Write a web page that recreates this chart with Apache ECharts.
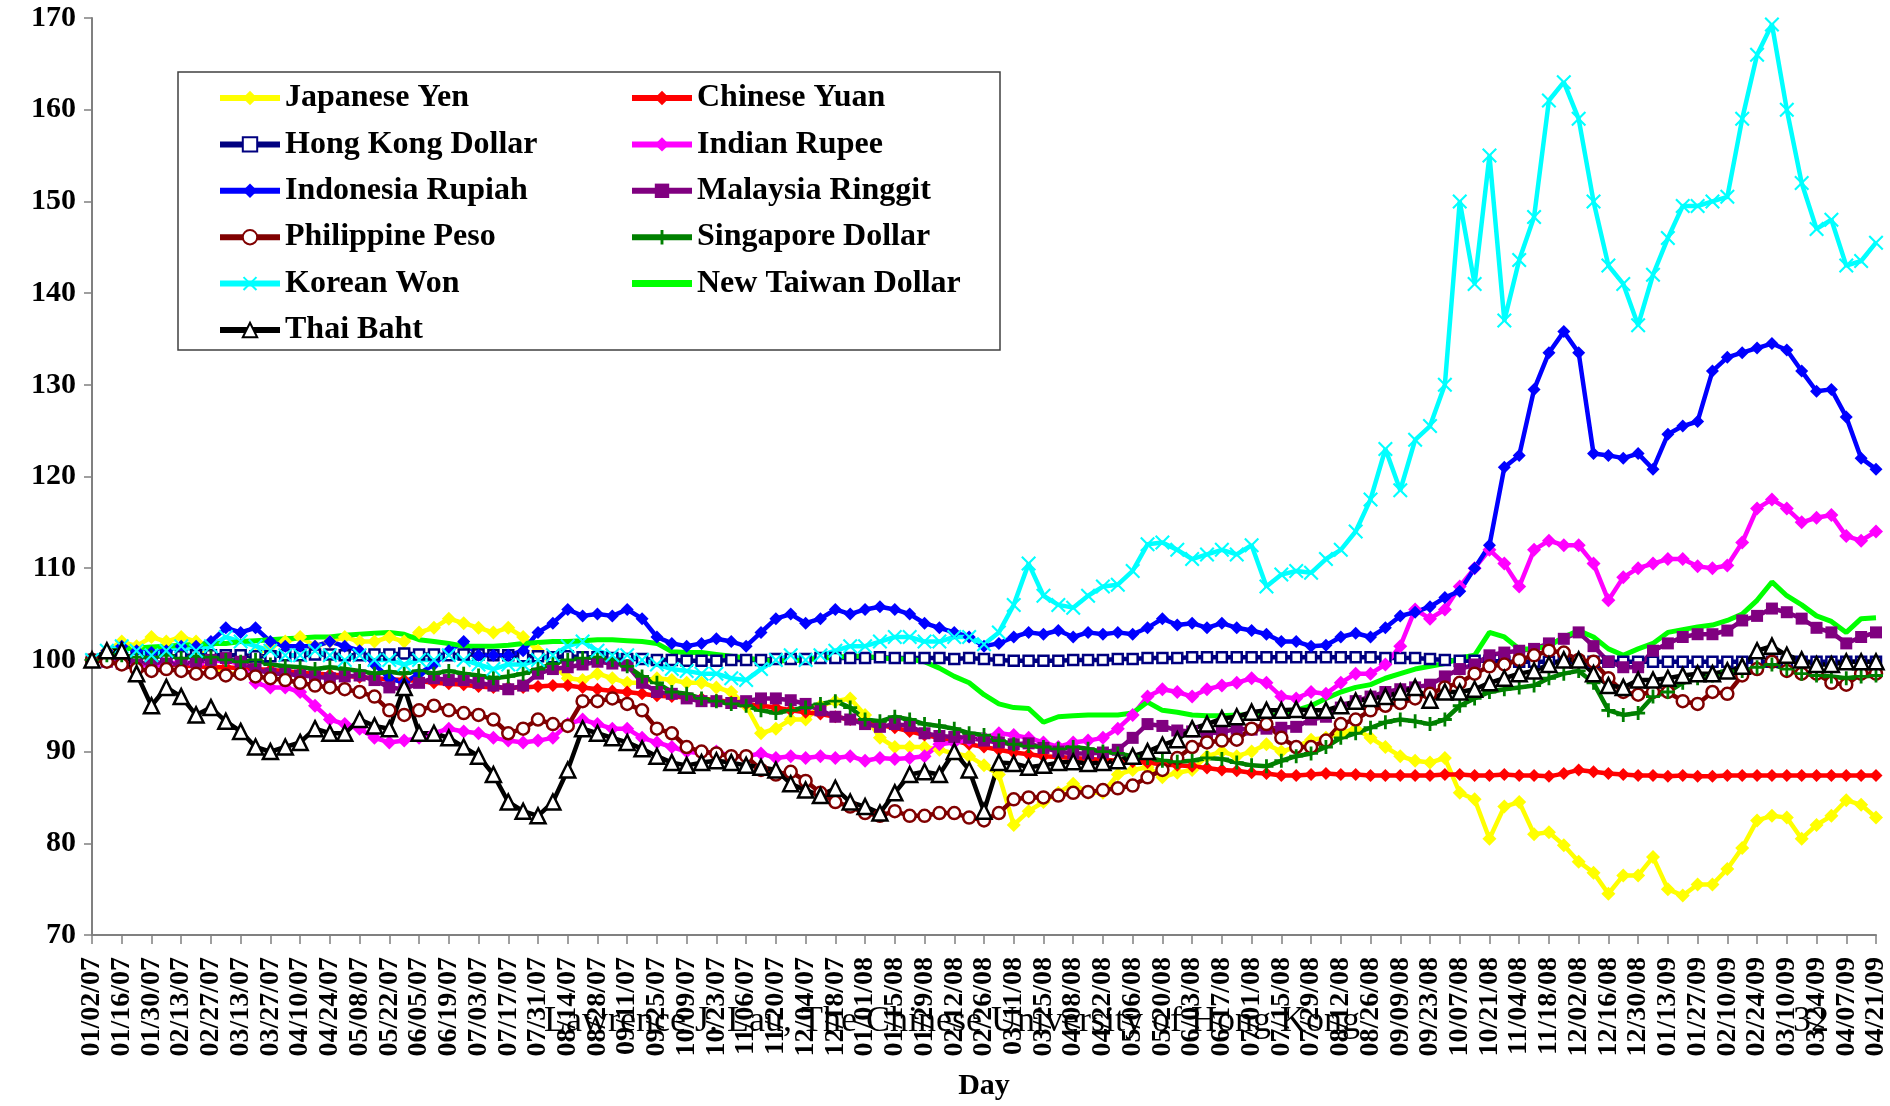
<!DOCTYPE html>
<html>
<head>
<meta charset="utf-8">
<script src="https://cdn.jsdelivr.net/npm/echarts/dist/echarts.min.js"></script>
<style>
  html, body { margin: 0; padding: 0; background: #fff; }
  #chart { width: 1890px; height: 1106px; }
</style>
</head>
<body>
<div id="chart"></div>
<script>
// tick labels, one every 10 trading days; data is weekly (2 points per label)
const tickLabels = [
  '01/02/07', '01/16/07', '01/30/07', '02/13/07', '02/27/07', '03/13/07', '03/27/07', '04/10/07', '04/24/07', '05/08/07',
  '05/22/07', '06/05/07', '06/19/07', '07/03/07', '07/17/07', '07/31/07', '08/14/07', '08/28/07', '09/11/07', '09/25/07',
  '10/09/07', '10/23/07', '11/06/07', '11/20/07', '12/04/07', '12/18/07', '01/01/08', '01/15/08', '01/29/08', '02/12/08',
  '02/26/08', '03/11/08', '03/25/08', '04/08/08', '04/22/08', '05/06/08', '05/20/08', '06/03/08', '06/17/08', '07/01/08',
  '07/15/08', '07/29/08', '08/12/08', '08/26/08', '09/09/08', '09/23/08', '10/07/08', '10/21/08', '11/04/08', '11/18/08',
  '12/02/08', '12/16/08', '12/30/08', '01/13/09', '01/27/09', '02/10/09', '02/24/09', '03/10/09', '03/24/09', '04/07/09',
  '04/21/09'
];

const jpy = [
  100, 101, 102, 101.5, 102.5, 102, 102.5, 102, 99.5, 98.5,
  98.5, 100.5, 101.5, 102, 102.5, 101.5, 102, 102.5, 102, 102,
  102.5, 102, 103, 103.5, 104.5, 104, 103.5, 103, 103.5, 102.5,
  101, 99.5, 98, 97.8, 98.5, 98, 97.5, 97.5, 98, 97.8,
  97.5, 97.5, 97, 96.5, 95, 92, 92.5, 93.5, 93.5, 95,
  95.5, 95.8, 94, 91.5, 90.5, 90.5, 90.5, 90.2, 89.8, 89.5,
  88.5, 87.5, 82, 83.5, 84.5, 85.5, 86.5, 85.5, 85.5, 87.5,
  88, 88.3, 87.2, 87.7, 88, 89.5, 90, 89.5, 90, 90.8,
  90, 90.5, 91.3, 91.5, 92, 92.5, 91.5, 90.5, 89.5, 89,
  88.8, 89.3, 85.5, 84.8, 80.5, 84, 84.5, 81, 81.2, 79.8,
  78, 76.8, 74.5, 76.5, 76.5, 78.5, 75, 74.3, 75.5, 75.5,
  77.2, 79.5, 82.5, 83, 82.8, 80.5, 82, 83, 84.7, 84.2, 82.8
];
const cny = [
  100, 100, 99.8, 99.7, 99.6, 99.5, 99.4, 99.3, 99.2, 99.2,
  99.1, 99, 98.9, 98.8, 98.6, 98.5, 98.4, 98.3, 98.1, 98,
  97.9, 97.8, 97.7, 97.5, 97.4, 97.3, 97.1, 97, 97, 97,
  97.1, 97.2, 97.2, 97, 96.8, 96.6, 96.5, 96.3, 96.1, 96,
  95.9, 95.8, 95.6, 95.4, 95.2, 95, 94.8, 94.5, 94.3, 94.1,
  93.8, 93.5, 93.2, 92.9, 92.6, 92.2, 91.8, 91.5, 91.2, 90.8,
  90.5, 90.2, 89.9, 89.7, 89.5, 89.4, 89.3, 89.2, 89.1, 89,
  88.9, 88.8, 88.6, 88.5, 88.4, 88.2, 88, 87.9, 87.7, 87.6,
  87.4, 87.4, 87.5, 87.6, 87.5, 87.5, 87.4, 87.4, 87.4, 87.4,
  87.4, 87.5, 87.5, 87.4, 87.4, 87.5, 87.4, 87.4, 87.3, 87.6,
  88, 87.8, 87.6, 87.5, 87.4, 87.4, 87.3, 87.4, 87.3, 87.3,
  87.4, 87.4, 87.4, 87.4, 87.4, 87.4, 87.4, 87.4, 87.4, 87.4, 87.4
];
const hkd = [
  100, 100.2, 100.3, 100.3, 100.4, 100.4, 100.4, 100.5, 100.5, 100.5,
  100.5, 100.4, 100.4, 100.5, 100.5, 100.6, 100.6, 100.5, 100.5, 100.6,
  100.6, 100.7, 100.6, 100.6, 100.5, 100.6, 100.6, 100.5, 100.5, 100.4,
  100.4, 100.3, 100.4, 100.3, 100.3, 100.2, 100.1, 100.1, 100, 100,
  99.9, 99.9, 99.9, 100, 100, 100, 100.1, 100.1, 100.1, 100.2,
  100.2, 100.2, 100.2, 100.3, 100.2, 100.2, 100.2, 100.2, 100.1, 100.2,
  100.1, 100, 99.9, 99.9, 99.9, 99.9, 100, 100, 100, 100.1,
  100.1, 100.2, 100.2, 100.2, 100.3, 100.3, 100.3, 100.3, 100.3, 100.3,
  100.3, 100.3, 100.3, 100.3, 100.3, 100.3, 100.3, 100.2, 100.2, 100.2,
  100.1, 100, 99.9, 99.9, 99.9, 99.8, 99.8, 99.8, 99.8, 99.8,
  99.8, 99.8, 99.8, 99.8, 99.8, 99.8, 99.8, 99.8, 99.8, 99.8,
  99.8, 99.8, 99.8, 99.8, 99.8, 99.8, 99.8, 99.8, 99.8, 99.8, 99.8
];
const inr = [
  100, 100, 99.8, 99.5, 99.3, 99.5, 99.8, 99.5, 99.8, 100,
  99.5, 97.5, 97, 97, 96.5, 95, 93.5, 93, 92.5, 91.5,
  91, 91.2, 91.5, 92, 92.5, 92.2, 92, 91.5, 91.2, 91,
  91.2, 91.5, 93, 93.5, 93, 92.5, 92.5, 91.5, 91, 90.5,
  90, 89.8, 90, 89.5, 89.5, 89.8, 89.3, 89.5, 89.3, 89.5,
  89.3, 89.5, 89, 89.3, 89.2, 89.3, 89.5, 90.8, 91, 91.3,
  91.5, 92, 91.8, 91.5, 91, 90.5, 91, 91.2, 91.5, 92.5,
  94, 96, 96.8, 96.5, 96, 96.8, 97.2, 97.5, 98, 97.5,
  96, 95.8, 96.5, 96.3, 97.5, 98.5, 98.5, 99.5, 101.5, 105.5,
  104.5, 105.5, 108, 110, 112, 110.5, 108, 112, 113, 112.5,
  112.5, 110.5, 106.5, 109, 110, 110.5, 111, 111, 110.2, 110,
  110.3, 112.8, 116.5, 117.5, 116.5, 115, 115.5, 115.8, 113.5, 113, 114
];
const idr = [
  100, 101, 101.5, 101, 100.8, 101, 101.5, 101.5, 102, 103.5,
  103, 103.5, 102, 101.5, 101.5, 101.5, 102, 101.5, 101, 99.5,
  98, 97.5, 98.5, 99.5, 101, 102, 100.5, 100.5, 100.5, 101,
  103, 104, 105.5, 104.8, 105, 104.8, 105.5, 104.5, 102.5, 101.8,
  101.5, 101.8, 102.3, 102, 101.5, 103, 104.5, 105, 104, 104.5,
  105.5, 105, 105.5, 105.8, 105.5, 105, 104, 103.5, 103, 102.5,
  101.5, 101.8, 102.5, 103, 102.8, 103.2, 102.5, 103, 102.8, 103,
  102.8, 103.5, 104.5, 103.8, 104, 103.5, 104, 103.5, 103.2, 102.8,
  102, 102, 101.5, 101.6, 102.5, 102.9, 102.5, 103.5, 104.8, 105.2,
  105.8, 106.8, 107.5, 110, 112.5, 121, 122.3, 129.5, 133.5, 135.8,
  133.5, 122.5, 122.3, 122, 122.5, 120.8, 124.6, 125.5, 126, 131.5,
  133, 133.5, 134, 134.5, 133.8, 131.5, 129.3, 129.5, 126.5, 122, 120.8
];
const myr = [
  100, 99.8, 99.6, 99.5, 99.8, 99.6, 99.5, 99.8, 100, 100.2,
  99.8, 99, 98.5, 98.5, 98.3, 98.2, 98, 98.2, 98.3, 97.8,
  97, 96.8, 97.5, 98, 97.8, 97.8, 97.5, 97.2, 96.8, 97.2,
  98.5, 99, 99.2, 99.5, 99.8, 99.6, 99.4, 97.5, 96.5, 96.3,
  95.8, 95.5, 95.5, 95.3, 95.5, 95.8, 95.8, 95.6, 95.2, 94.5,
  93.8, 93.5, 93, 92.7, 93, 92.8, 92, 91.7, 91.6, 91.5,
  91.2, 91, 90.8, 90.9, 90.4, 90, 89.8, 89.8, 89.9, 90.2,
  91.5, 93, 92.8, 92.3, 92.2, 92, 92.1, 92.5, 92.4, 92.5,
  92.6, 92.7, 93.5, 93.8, 94.8, 95.5, 96, 96.5, 96.8, 97,
  97.3, 98.2, 99, 99.5, 100.5, 100.8, 101, 101.2, 101.8, 102.3,
  103, 101.5, 99.8, 99.2, 99.2, 101, 101.8, 102.5, 102.8, 102.8,
  103.2, 104.3, 104.8, 105.6, 105.2, 104.5, 103.5, 103, 101.8, 102.5, 103
];
const php = [
  100, 99.8, 99.5, 99, 98.8, 99, 98.8, 98.5, 98.6, 98.3,
  98.5, 98.2, 98, 97.8, 97.5, 97.2, 97, 96.8, 96.5, 96,
  94.5, 94, 94.5, 95, 94.5, 94.2, 94, 93.5, 92, 92.5,
  93.5, 93, 92.8, 95.5, 95.5, 95.8, 95.2, 94.5, 92.5, 92,
  90.5, 90, 89.8, 89.5, 89.5, 88, 87.5, 87.8, 86.8, 85.5,
  84.5, 84, 83.3, 83, 83.5, 83, 83, 83.3, 83.3, 82.8,
  82.5, 83.3, 84.8, 85, 85, 85.2, 85.5, 85.6, 85.8, 86,
  86.3, 87.2, 88, 89.3, 90.5, 91, 91.2, 91.3, 92.5, 93,
  91.5, 90.5, 90.5, 91.2, 93, 93.5, 94.5, 95, 95.3, 95.8,
  96.3, 97, 97.5, 98.5, 99.3, 99.5, 100, 100.5, 101, 100.8,
  100, 99.8, 98, 96.5, 96.2, 96.5, 96.5, 95.5, 95.2, 96.5,
  96.3, 98.3, 99, 99.8, 98.8, 98.5, 98.5, 97.5, 97.3, 98.5, 98.5
];
const sgd = [
  100, 100.5, 100.5, 100.3, 100.3, 100.5, 100.2, 100.4, 100.3, 100,
  99.8, 100, 99.5, 99.3, 99.2, 99, 99.2, 99, 98.8, 98.5,
  98.7, 98.5, 98.8, 98.5, 98.8, 98.5, 98.3, 98, 98.2, 98.5,
  99, 99.6, 100, 100.2, 100.3, 100, 99.3, 98.2, 97.5, 96.5,
  96.3, 95.8, 95.5, 95.2, 95, 94.5, 94.2, 94.5, 94.8, 95.2,
  95.5, 94.8, 93.5, 93.3, 93.8, 93.5, 93, 92.8, 92.5, 92,
  91.8, 91.2, 90.8, 90.6, 90.5, 90.3, 90.5, 90.3, 90, 89.8,
  89.5, 89.3, 89, 88.9, 89, 89.3, 89.2, 88.8, 88.5, 88.4,
  89, 89.5, 89.8, 90.5, 91.5, 92, 92.6, 93.2, 93.5, 93.3,
  93, 93.5, 95, 95.8, 96.5, 96.8, 97, 97.2, 98, 98.5,
  98.8, 97.5, 94.5, 94, 94.2, 96, 96.5, 97.5, 98, 98.3,
  98.8, 98.8, 99.2, 99.5, 99, 98.5, 98.3, 98.2, 98, 98.2, 98.3
];
const krw = [
  100, 101, 101.5, 101, 100.5, 101, 101.5, 101, 101.5, 102.5,
  102, 101.5, 101, 100.5, 100.5, 101, 100.5, 100, 100.5, 100,
  100, 99.5, 100, 100, 100.5, 100, 99.5, 99, 99.5, 99.5,
  100, 100.5, 101.5, 102, 101, 100.5, 100.5, 100, 99.5, 99,
  98.8, 98.5, 98.5, 98, 97.8, 99, 100, 100.5, 100, 100.5,
  101, 101.5, 101.5, 102, 102.5, 102.5, 102, 102, 102.5, 102.5,
  101.7, 103, 106, 110.5, 107, 106, 105.7, 107, 108, 108.2,
  109.7, 112.6, 112.8, 112, 111, 111.5, 112, 111.5, 112.5, 108,
  109.3, 109.7, 109.5, 111, 112, 114, 117.5, 123, 118.5, 124,
  125.5, 130, 150, 141, 155, 137, 143.6, 148.3, 161, 163,
  159, 150, 143, 141, 136.5, 142, 146, 149.5, 149.5, 150,
  150.5, 159, 166, 169.3, 160, 152, 147, 148, 143, 143.5, 145.5
];
const twd = [
  100, 100.8, 101.2, 101.3, 101.4, 101.5, 101.6, 101.7, 101.8, 101.8,
  102, 102.1, 102.2, 102.3, 102.4, 102.5, 102.5, 102.7, 102.8, 102.9,
  103, 102.8, 102.2, 102, 101.8, 101.5, 101.5, 101.5, 101.6, 101.8,
  101.9, 102, 102, 102.1, 102.2, 102.2, 102.1, 102, 101.8, 100.9,
  100.8, 100.8, 100.6, 100.4, 100.2, 100, 99.9, 99.9, 100, 100.2,
  100.3, 100.4, 100.4, 100.2, 100.1, 100.1, 99.8, 99.1, 98.2, 97.5,
  96.2, 95.2, 94.8, 94.7, 93.2, 93.8, 93.9, 94, 94, 94,
  94.2, 95.4, 94.5, 94.3, 94, 93.9, 93.9, 94, 94, 94,
  94, 94.5, 95, 95.8, 96.5, 97, 97.3, 98, 98.5, 99,
  99.3, 99.6, 100.2, 100.5, 103, 102.5, 101.2, 101.2, 101.5, 102.5,
  103.2, 102.5, 101.2, 100.5, 101.2, 101.8, 103, 103.3, 103.6, 103.8,
  104.3, 105, 106.5, 108.5, 107, 106, 104.8, 104.2, 103, 104.5, 104.6
];
const thb = [
  100, 101, 101, 98.5, 95, 97, 96, 94, 94.8, 93.3,
  92.2, 90.5, 90, 90.5, 91, 92.5, 92, 92, 93.5, 92.8,
  92.5, 97, 92, 92, 91.5, 90.5, 89.5, 87.5, 84.5, 83.5,
  83, 84.5, 88, 92.5, 92, 91.5, 91, 90.3, 89.5, 88.8,
  88.5, 88.8, 89, 88.8, 88.5, 88.3, 88, 86.5, 85.8, 85.2,
  86, 84.5, 84, 83.3, 85.5, 87.5, 87.8, 87.5, 90, 88,
  83.5, 88.8, 88.7, 88.3, 88.5, 88.8, 88.9, 88.7, 88.8, 89,
  89.5, 90, 90.7, 91.3, 92.5, 93, 93.6, 93.8, 94.3, 94.5,
  94.5, 94.6, 94.5, 94.5, 95, 95.5, 95.8, 96, 96.5, 97,
  95.6, 96.5, 96.5, 96.8, 97.5, 98, 98.5, 98.8, 99.5, 100,
  100, 98.5, 97.2, 97, 97.8, 97.8, 98, 98.3, 98.5, 98.5,
  98.8, 99.3, 101, 101.5, 100.5, 100, 99.5, 99.5, 99.8, 99.8, 99.8
];

// weekly categories: every even one is a tick label
const categories = [];
for (let i = 0; i < tickLabels.length; i++) {
  categories.push(tickLabels[i]);
  if (i < tickLabels.length - 1) categories.push(tickLabels[i] + ' +1w');
}

const FONT = '"Liberation Serif", "Times New Roman", serif';
const plusPath = 'path://M4,0h2v4h4v2h-4v4h-2v-4h-4v-2h4z';
const crossPath = 'path://M0,1L1,0L5,4L9,0L10,1L6,5L10,9L9,10L5,6L1,10L0,9L4,5Z';
const barPath = 'path://M0,0H60V7H0Z';

const seriesDefs = [
  { name: 'Japanese Yen', data: jpy, color: '#FFFF00', symbol: 'diamond', size: 14 },
  { name: 'Chinese Yuan', data: cny, color: '#FF0000', symbol: 'diamond', size: 13 },
  { name: 'Hong Kong Dollar', data: hkd, color: '#000080', symbol: 'rect', size: 10, hollow: true },
  { name: 'Indian Rupee', data: inr, color: '#FF00FF', symbol: 'diamond', size: 14 },
  { name: 'Indonesia Rupiah', data: idr, color: '#0000FF', symbol: 'diamond', size: 13 },
  { name: 'Malaysia Ringgit', data: myr, color: '#800080', symbol: 'rect', size: 12 },
  { name: 'Philippine Peso', data: php, color: '#800000', symbol: 'circle', size: 12, hollow: true },
  { name: 'Singapore Dollar', data: sgd, color: '#008000', symbol: plusPath, size: 14 },
  { name: 'Korean Won', data: krw, color: '#00FFFF', symbol: crossPath, size: 15 },
  { name: 'New Taiwan Dollar', data: twd, color: '#00FF00', symbol: 'none', size: 0 },
  { name: 'Thai Baht', data: thb, color: '#000000', symbol: 'triangle', size: 15, hollow: true }
];

const series = seriesDefs.map(d => ({
  name: d.name,
  type: 'line',
  data: d.data,
  symbol: d.symbol,
  symbolSize: d.size,
  showSymbol: d.symbol !== 'none',
  showAllSymbol: true,
  lineStyle: { color: d.color, width: d.symbol === 'none' ? 5 : 4.5 },
  itemStyle: d.hollow
    ? { color: '#ffffff', borderColor: d.color, borderWidth: 2.5 }
    : { color: d.color, borderWidth: 0 },
  emphasis: { disabled: true }
}));

const legendText = { fontFamily: FONT, fontWeight: 'bold', fontSize: 32, lineHeight: 32, color: '#000' };
const legendBase = {
  orient: 'vertical', top: 77, itemGap: 14.4, itemWidth: 60, itemHeight: 18,
  textStyle: legendText, selectedMode: false, lineStyle: { width: 6 }
};

const option = {
  animation: false,
  backgroundColor: '#fff',
  grid: { left: 92, right: 12, top: 18, bottom: 167 },
  legend: [
    Object.assign({}, legendBase, {
      left: 212,
      data: ['Japanese Yen', 'Hong Kong Dollar', 'Indonesia Rupiah', 'Philippine Peso', 'Korean Won', 'Thai Baht']
    }),
    Object.assign({}, legendBase, {
      left: 624,
      data: ['Chinese Yuan', 'Indian Rupee', 'Malaysia Ringgit', 'Singapore Dollar',
        { name: 'New Taiwan Dollar', icon: barPath }]
    })
  ],
  xAxis: {
    type: 'category',
    data: categories,
    boundaryGap: false,
    axisLine: { lineStyle: { color: '#808080', width: 2 } },
    axisTick: { interval: 1, length: 9, lineStyle: { color: '#808080', width: 1.5 } },
    axisLabel: {
      interval: 1, rotate: 90, margin: 22, color: '#000',
      fontFamily: FONT, fontWeight: 'bold', fontSize: 28
    },
    name: 'Day',
    nameLocation: 'middle',
    nameGap: 136,
    nameTextStyle: { fontFamily: FONT, fontWeight: 'bold', fontSize: 30, color: '#000', verticalAlign: 'top' }
  },
  yAxis: {
    type: 'value',
    min: 70, max: 170, interval: 10,
    axisLine: { show: true, lineStyle: { color: '#808080', width: 2 } },
    axisTick: { show: true, length: 8, lineStyle: { color: '#808080', width: 1.5 } },
    splitLine: { show: false },
    axisLabel: { color: '#000', fontFamily: FONT, fontWeight: 'bold', fontSize: 30, margin: 16 }
  },
  graphic: [
    {
      type: 'rect', z: 0,
      shape: { x: 178, y: 72, width: 822, height: 278 },
      style: { fill: '#fff', stroke: '#404040', lineWidth: 1.5 }
    },
    {
      type: 'text', z: 100, x: 952, y: 1022,
      style: {
        text: 'Lawrence J. Lau, The Chinese University of Hong Kong',
        font: '36px ' + FONT, fill: '#000',
        textAlign: 'center', textVerticalAlign: 'middle', align: 'center', verticalAlign: 'middle'
      }
    },
    {
      type: 'text', z: 100, x: 1811, y: 1022,
      style: {
        text: '32', font: '36px ' + FONT, fill: '#000',
        textAlign: 'center', textVerticalAlign: 'middle', align: 'center', verticalAlign: 'middle'
      }
    }
  ],
  series: series
};

const chart = echarts.init(document.getElementById('chart'), null, { renderer: 'canvas' });
chart.setOption(option);
</script>
</body>
</html>
